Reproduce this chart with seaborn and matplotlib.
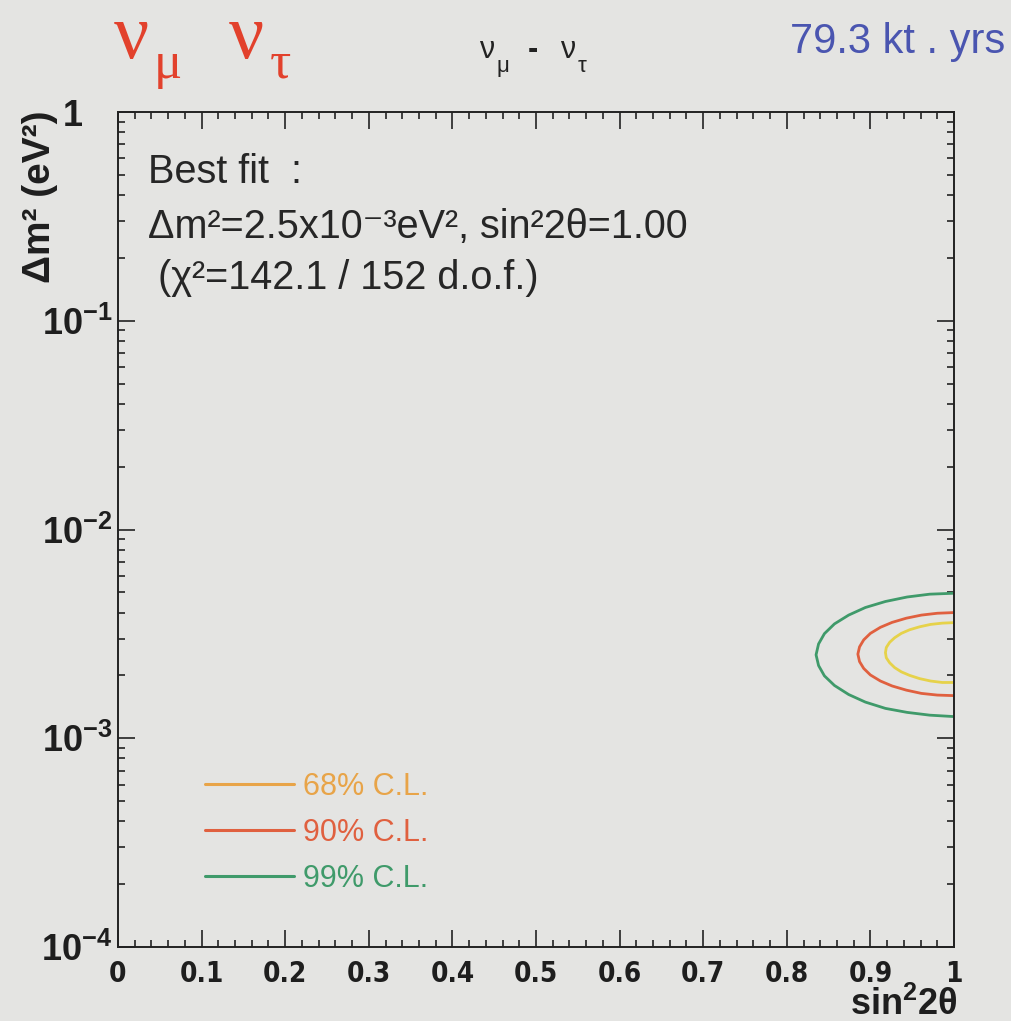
import numpy as np
import pandas as pd
import matplotlib
matplotlib.use("Agg")
import matplotlib.pyplot as plt
import seaborn as sns
from matplotlib import font_manager
from matplotlib.font_manager import FontProperties
from matplotlib.lines import Line2D
from matplotlib.ticker import MultipleLocator, LogLocator, FixedLocator, FixedFormatter, NullFormatter

# ---- data ----
cl68_sin2 = [1.000, 0.986, 0.972, 0.959, 0.947, 0.937, 0.929, 0.923, 0.919, 0.918,
             0.919, 0.923, 0.929, 0.937, 0.947, 0.959, 0.972, 0.986, 1.000]
cl68_dm2 = [3.58e-3, 3.56e-3, 3.51e-3, 3.42e-3, 3.31e-3, 3.18e-3, 3.03e-3, 2.88e-3, 2.72e-3, 2.57e-3,
            2.43e-3, 2.30e-3, 2.18e-3, 2.08e-3, 2.00e-3, 1.93e-3, 1.88e-3, 1.85e-3, 1.85e-3]
cl90_sin2 = [1.000, 0.980, 0.961, 0.943, 0.926, 0.912, 0.900, 0.892, 0.887, 0.885,
             0.887, 0.892, 0.900, 0.912, 0.926, 0.943, 0.961, 0.980, 1.000]
cl90_dm2 = [4.00e-3, 3.97e-3, 3.89e-3, 3.76e-3, 3.59e-3, 3.40e-3, 3.18e-3, 2.96e-3, 2.74e-3, 2.53e-3,
            2.33e-3, 2.16e-3, 2.01e-3, 1.88e-3, 1.78e-3, 1.70e-3, 1.64e-3, 1.61e-3, 1.60e-3]
cl99_sin2 = [1.000, 0.971, 0.944, 0.918, 0.894, 0.874, 0.857, 0.845, 0.838, 0.835,
             0.838, 0.845, 0.857, 0.874, 0.894, 0.918, 0.944, 0.971, 1.000]
cl99_dm2 = [4.95e-3, 4.90e-3, 4.75e-3, 4.52e-3, 4.23e-3, 3.89e-3, 3.53e-3, 3.17e-3, 2.83e-3, 2.51e-3,
            2.23e-3, 1.99e-3, 1.79e-3, 1.62e-3, 1.49e-3, 1.39e-3, 1.33e-3, 1.29e-3, 1.27e-3]

levels = ["68% C.L.", "90% C.L.", "99% C.L."]
x_ticks = [0, 0.1, 0.2, 0.3, 0.4, 0.5, 0.6, 0.7, 0.8, 0.9, 1]
x_ticklabels = ["0", "0.1", "0.2", "0.3", "0.4", "0.5", "0.6", "0.7", "0.8", "0.9", "1"]
y_ticks = [1e-4, 1e-3, 1e-2, 1e-1, 1]
y_ticklabels = [r"$\mathbf{10^{-4}}$", r"$\mathbf{10^{-3}}$", r"$\mathbf{10^{-2}}$",
                r"$\mathbf{10^{-1}}$", ""]
y_top_label = "1"

contour_colors = {"68% C.L.": "#e6d24a", "90% C.L.": "#e0603f", "99% C.L.": "#3f9a6a"}
legend_colors = {"68% C.L.": "#e8a448", "90% C.L.": "#e0603f", "99% C.L.": "#3f9a6a"}

df = pd.concat([
    pd.DataFrame({"sin2": cl68_sin2, "dm2": cl68_dm2, "level": levels[0]}),
    pd.DataFrame({"sin2": cl90_sin2, "dm2": cl90_dm2, "level": levels[1]}),
    pd.DataFrame({"sin2": cl99_sin2, "dm2": cl99_dm2, "level": levels[2]}),
], ignore_index=True)

# ---- style ----
sns.set_theme(style="ticks")
bg = "#e4e4e2"
plt.rcParams["font.family"] = ["Liberation Sans", "DejaVu Sans"]
plt.rcParams["mathtext.fontset"] = "custom"
plt.rcParams["mathtext.rm"] = "Liberation Sans"
plt.rcParams["mathtext.bf"] = "Liberation Sans:bold"
plt.rcParams["mathtext.it"] = "Liberation Sans:italic"

# a condensed bold face for the x tick labels, if one is installed
cond = None
for f in font_manager.fontManager.ttflist:
    if f.stretch in ("condensed", "semi-condensed", "extra-condensed") and \
            (f.weight in ("bold", 700) or str(f.weight) == "700") and f.style == "normal":
        cond = f
        break
if cond is not None:
    xtick_fp = FontProperties(fname=cond.fname, size=20)
else:
    xtick_fp = FontProperties(family="Liberation Sans", weight="bold", size=20)

W, H = 1012, 1021
fig = plt.figure(figsize=(W / 100, H / 100), dpi=100, facecolor=bg)
L, R, T, B = 118, 954, 112, 947
ax = fig.add_axes([L / W, 1 - B / H, (R - L) / W, (B - T) / H])
ax.set_facecolor(bg)
ax.set_yscale("log")

sns.lineplot(data=df, x="sin2", y="dm2", hue="level", palette=contour_colors,
             sort=False, estimator=None, legend=False, linewidth=2.0, ax=ax)

ax.set_xlim(0, 1)
ax.set_ylim(1e-4, 1)
ax.set_xlabel("")
ax.set_ylabel("")

ax.xaxis.set_major_locator(FixedLocator(x_ticks))
ax.xaxis.set_major_formatter(FixedFormatter(x_ticklabels))
ax.xaxis.set_minor_locator(MultipleLocator(0.02))
ax.yaxis.set_major_locator(FixedLocator(y_ticks))
ax.yaxis.set_major_formatter(FixedFormatter(y_ticklabels))
ax.yaxis.set_minor_locator(LogLocator(base=10, subs=np.arange(2, 10), numticks=20))
ax.yaxis.set_minor_formatter(NullFormatter())

for s in ax.spines.values():
    s.set_color("#222222")
    s.set_linewidth(1.4)
ax.tick_params(which="both", direction="in", top=True, right=True, color="#222222", width=1.2)
ax.tick_params(which="major", length=12)
ax.tick_params(which="minor", length=5)
ax.tick_params(axis="x", which="major", pad=9, labelcolor="#1e1e1e")
ax.tick_params(axis="y", which="major", pad=4, labelsize=26, labelcolor="#1e1e1e")
for lab in ax.get_xticklabels():
    lab.set_fontproperties(xtick_fp)

# top "1" label of the y axis
fig.text(83 / W, 1 - 117 / H, y_top_label, fontsize=26, fontweight="bold", color="#1e1e1e",
         ha="right", va="center")

# legend
handles = [Line2D([0], [0], color=legend_colors[l], lw=2.2) for l in levels]
leg = ax.legend(handles, levels, loc="upper left",
                bbox_to_anchor=((205 - L) / (R - L), (B - 772) / (B - T)),
                frameon=False, fontsize=22, handlelength=2.9, handletextpad=0.3,
                labelspacing=0.52, borderpad=0, borderaxespad=0)
for txt, l in zip(leg.get_texts(), levels):
    txt.set_color(legend_colors[l])

# annotation text
tc = "#262626"
fs = 28.5
fig.text(148 / W, 1 - 183 / H, "Best fit  :", fontsize=fs, color=tc, va="baseline")
fig.text(148 / W, 1 - 238 / H, "Δm²=2.5x10⁻³eV², sin²2θ=1.00", fontsize=fs, color=tc, va="baseline")
fig.text(158 / W, 1 - 289 / H, "(χ²=142.1 / 152 d.o.f.)", fontsize=fs, color=tc, va="baseline")

# header texts
red = "#e2412c"
serif = ["Liberation Serif", "DejaVu Serif"]
fig.text(114 / W, 1 - 58 / H, "ν", fontsize=56, color=red, family=serif, va="baseline")
fig.text(154 / W, 1 - 78 / H, "μ", fontsize=38, color=red, family=serif, va="baseline")
fig.text(229 / W, 1 - 58 / H, "ν", fontsize=56, color=red, family=serif, va="baseline")
fig.text(270 / W, 1 - 78 / H, "τ", fontsize=38, color=red, family=serif, va="baseline")

dark = "#222222"
fig.text(479 / W, 1 - 58 / H, "ν", fontsize=22, color=dark, va="baseline")
fig.text(497 / W, 1 - 72 / H, "μ", fontsize=16, color=dark, va="baseline")
fig.text(528 / W, 1 - 58 / H, "-", fontsize=22, color=dark, va="baseline", fontweight="bold")
fig.text(560 / W, 1 - 58 / H, "ν", fontsize=22, color=dark, va="baseline")
fig.text(578 / W, 1 - 72 / H, "τ", fontsize=16, color=dark, va="baseline")

fig.text(1005 / W, 1 - 53 / H, "79.3 kt . yrs", fontsize=30, color="#4a55b0",
         ha="right", va="baseline")

# axis titles
fig.text(958 / W, 1 - 1015 / H, r"$\mathbf{sin^{2}2\theta}$", fontsize=26, color="#1e1e1e",
         ha="right", va="baseline")
fig.text(40 / W, 1 - 110 / H, "Δm² (eV²)", fontsize=28, fontweight="bold", color="#1e1e1e",
         rotation=90, ha="center", va="top")

fig.savefig("out.png", dpi=100, facecolor=bg)
